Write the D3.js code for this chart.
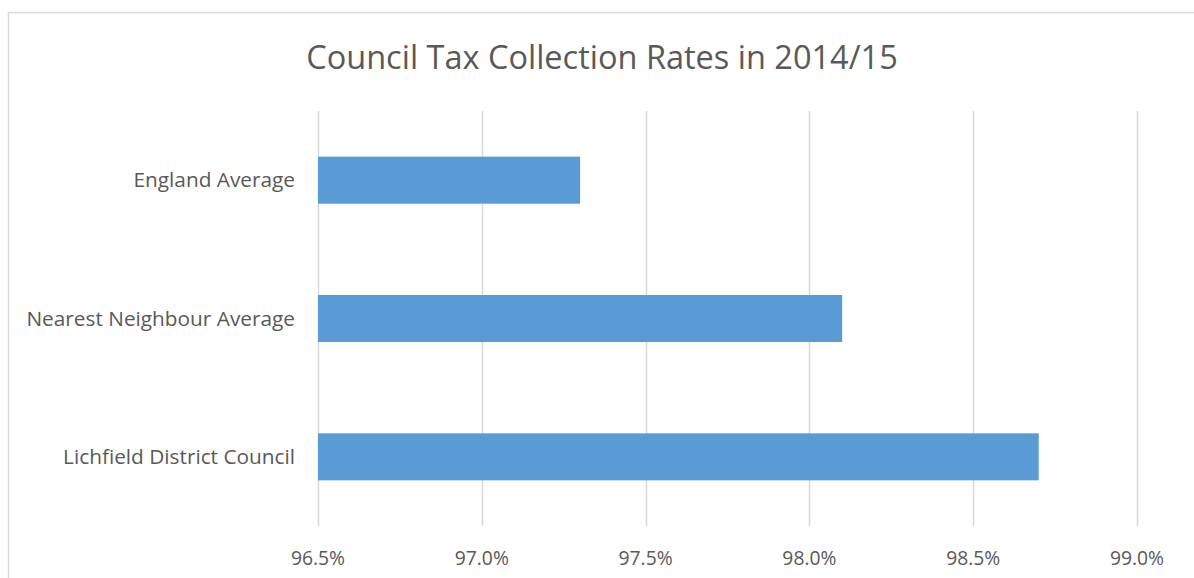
<!DOCTYPE html>
<html>
<head>
<meta charset="utf-8">
<script src="https://cdn.jsdelivr.net/npm/d3@7"></script>
<style>
  body { margin: 0; background: #fff; }
  text { font-family: "Open Sans", sans-serif; fill: #595959; }
</style>
</head>
<body>
<div id="chart"></div>
<script>
// data
var categories = ["England Average", "Nearest Neighbour Average", "Lichfield District Council"];
var rates = [97.3, 98.1, 98.7];
var tickValues = [96.5, 97.0, 97.5, 98.0, 98.5, 99.0];
var title = "Council Tax Collection Rates in 2014/15";

var W = 1194, H = 578;
var margin = { top: 111, right: 57, bottom: 52, left: 318 };

var svg = d3.select("#chart").append("svg")
  .attr("width", W)
  .attr("height", H);

// chart frame (only top and left edges fall inside the window)
svg.append("rect")
  .attr("x", 8.5).attr("y", 12.5)
  .attr("width", W + 20).attr("height", H + 20)
  .attr("fill", "none")
  .attr("stroke", "#d9d9d9")
  .attr("stroke-width", 1.5);

svg.append("text")
  .attr("x", 602).attr("y", 69)
  .attr("text-anchor", "middle")
  .style("font-size", "32.5px")
  .text(title);

var x = d3.scaleLinear()
  .domain([96.5, 99.0])
  .range([margin.left, W - margin.right]);

var y = d3.scaleBand()
  .domain(categories)
  .range([margin.top, H - margin.bottom])
  .paddingInner(0.66)
  .paddingOuter(0.33);

// gridlines
svg.append("g")
  .selectAll("line")
  .data(tickValues)
  .enter().append("line")
  .attr("x1", function (d) { return Math.round(x(d)) + 0.5; })
  .attr("x2", function (d) { return Math.round(x(d)) + 0.5; })
  .attr("y1", margin.top)
  .attr("y2", H - margin.bottom)
  .attr("stroke", "#d9d9d9")
  .attr("stroke-width", 1.5);

// bars
svg.append("g")
  .selectAll("rect")
  .data(rates)
  .enter().append("rect")
  .attr("x", x(96.5))
  .attr("y", function (d, i) { return y(categories[i]); })
  .attr("width", function (d) { return x(d) - x(96.5); })
  .attr("height", y.bandwidth())
  .attr("fill", "#5b9bd5");

// category labels
svg.append("g")
  .selectAll("text")
  .data(categories)
  .enter().append("text")
  .attr("x", margin.left - 23)
  .attr("y", function (d) { return y(d) + y.bandwidth() / 2; })
  .attr("dy", "0.35em")
  .attr("text-anchor", "end")
  .style("font-size", "20.8px")
  .text(function (d) { return d; });

// value axis labels
svg.append("g")
  .selectAll("text")
  .data(tickValues)
  .enter().append("text")
  .attr("x", function (d) { return x(d); })
  .attr("y", 565)
  .attr("text-anchor", "middle")
  .style("font-size", "19.3px")
  .text(function (d) { return d3.format(".1f")(d) + "%"; });
</script>
</body>
</html>
